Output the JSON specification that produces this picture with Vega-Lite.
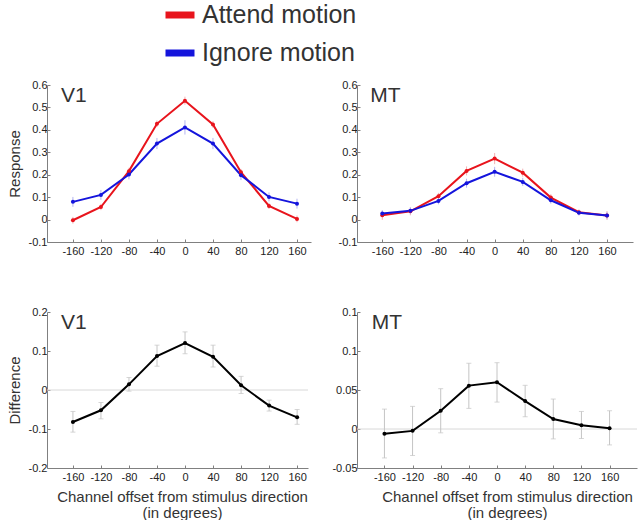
{
  "$schema": "https://vega.github.io/schema/vega-lite/v6.json",
  "background": "white",
  "padding": {"left": 7, "top": -3, "right": 0, "bottom": 0},
  "config": {
    "view": {"stroke": null},
    "font": "Liberation Sans",
    "locale": {"number": {"decimal": ".", "thousands": ",", "grouping": [3], "currency": ["$", ""], "minus": "-"}},
    "axis": {
      "domainColor": "#808080", "tickColor": "#808080", "tickSize": -3,
      "labelFontSize": 11, "labelColor": "#222", "labelPadding": 3, "labelOverlap": false,
      "grid": false, "titleFontSize": 15, "titleFontWeight": "normal", "titleColor": "#333"
    },
    "axisX": {"labelPadding": 6}
  },
  "datasets": {
    "labels": [
      {"panel": "TL", "label": "V1"},
      {"panel": "TR", "label": "MT"},
      {"panel": "BL", "label": "V1"},
      {"panel": "BR", "label": "MT"}
    ],
    "resp": [
      {"area": "V1", "series": "Attend motion", "offset": -160, "value": -0.003, "lo": -0.018, "hi": 0.012},
      {"area": "V1", "series": "Attend motion", "offset": -120, "value": 0.056, "lo": 0.042, "hi": 0.070},
      {"area": "V1", "series": "Attend motion", "offset": -80, "value": 0.216, "lo": 0.201, "hi": 0.231},
      {"area": "V1", "series": "Attend motion", "offset": -40, "value": 0.427, "lo": 0.412, "hi": 0.442},
      {"area": "V1", "series": "Attend motion", "offset": 0, "value": 0.530, "lo": 0.512, "hi": 0.548},
      {"area": "V1", "series": "Attend motion", "offset": 40, "value": 0.424, "lo": 0.409, "hi": 0.439},
      {"area": "V1", "series": "Attend motion", "offset": 80, "value": 0.211, "lo": 0.196, "hi": 0.226},
      {"area": "V1", "series": "Attend motion", "offset": 120, "value": 0.061, "lo": 0.047, "hi": 0.075},
      {"area": "V1", "series": "Attend motion", "offset": 160, "value": 0.003, "lo": -0.012, "hi": 0.018},
      {"area": "V1", "series": "Ignore motion", "offset": -160, "value": 0.079, "lo": 0.057, "hi": 0.101},
      {"area": "V1", "series": "Ignore motion", "offset": -120, "value": 0.110, "lo": 0.088, "hi": 0.132},
      {"area": "V1", "series": "Ignore motion", "offset": -80, "value": 0.201, "lo": 0.179, "hi": 0.223},
      {"area": "V1", "series": "Ignore motion", "offset": -40, "value": 0.339, "lo": 0.314, "hi": 0.364},
      {"area": "V1", "series": "Ignore motion", "offset": 0, "value": 0.411, "lo": 0.379, "hi": 0.443},
      {"area": "V1", "series": "Ignore motion", "offset": 40, "value": 0.339, "lo": 0.314, "hi": 0.364},
      {"area": "V1", "series": "Ignore motion", "offset": 80, "value": 0.198, "lo": 0.176, "hi": 0.220},
      {"area": "V1", "series": "Ignore motion", "offset": 120, "value": 0.101, "lo": 0.081, "hi": 0.121},
      {"area": "V1", "series": "Ignore motion", "offset": 160, "value": 0.071, "lo": 0.049, "hi": 0.093},
      {"area": "MT", "series": "Attend motion", "offset": -160, "value": 0.019, "lo": -0.001, "hi": 0.039},
      {"area": "MT", "series": "Attend motion", "offset": -120, "value": 0.037, "lo": 0.019, "hi": 0.055},
      {"area": "MT", "series": "Attend motion", "offset": -80, "value": 0.104, "lo": 0.089, "hi": 0.119},
      {"area": "MT", "series": "Attend motion", "offset": -40, "value": 0.217, "lo": 0.197, "hi": 0.237},
      {"area": "MT", "series": "Attend motion", "offset": 0, "value": 0.272, "lo": 0.247, "hi": 0.297},
      {"area": "MT", "series": "Attend motion", "offset": 40, "value": 0.209, "lo": 0.191, "hi": 0.227},
      {"area": "MT", "series": "Attend motion", "offset": 80, "value": 0.098, "lo": 0.083, "hi": 0.113},
      {"area": "MT", "series": "Attend motion", "offset": 120, "value": 0.033, "lo": 0.021, "hi": 0.045},
      {"area": "MT", "series": "Attend motion", "offset": 160, "value": 0.018, "lo": -0.002, "hi": 0.038},
      {"area": "MT", "series": "Ignore motion", "offset": -160, "value": 0.027, "lo": 0.012, "hi": 0.042},
      {"area": "MT", "series": "Ignore motion", "offset": -120, "value": 0.039, "lo": 0.024, "hi": 0.054},
      {"area": "MT", "series": "Ignore motion", "offset": -80, "value": 0.083, "lo": 0.068, "hi": 0.098},
      {"area": "MT", "series": "Ignore motion", "offset": -40, "value": 0.162, "lo": 0.142, "hi": 0.182},
      {"area": "MT", "series": "Ignore motion", "offset": 0, "value": 0.213, "lo": 0.191, "hi": 0.235},
      {"area": "MT", "series": "Ignore motion", "offset": 40, "value": 0.168, "lo": 0.150, "hi": 0.186},
      {"area": "MT", "series": "Ignore motion", "offset": 80, "value": 0.086, "lo": 0.071, "hi": 0.101},
      {"area": "MT", "series": "Ignore motion", "offset": 120, "value": 0.030, "lo": 0.018, "hi": 0.042},
      {"area": "MT", "series": "Ignore motion", "offset": 160, "value": 0.018, "lo": 0.003, "hi": 0.033}
    ],
    "diff": [
      {"area": "V1", "offset": -160, "value": -0.082, "lo": -0.108, "hi": -0.055},
      {"area": "V1", "offset": -120, "value": -0.052, "lo": -0.074, "hi": -0.032},
      {"area": "V1", "offset": -80, "value": 0.0145, "lo": -0.003, "hi": 0.032},
      {"area": "V1", "offset": -40, "value": 0.087, "lo": 0.061, "hi": 0.115},
      {"area": "V1", "offset": 0, "value": 0.1205, "lo": 0.093, "hi": 0.149},
      {"area": "V1", "offset": 40, "value": 0.085, "lo": 0.059, "hi": 0.115},
      {"area": "V1", "offset": 80, "value": 0.012, "lo": -0.009, "hi": 0.035},
      {"area": "V1", "offset": 120, "value": -0.040, "lo": -0.054, "hi": -0.026},
      {"area": "V1", "offset": 160, "value": -0.070, "lo": -0.088, "hi": -0.050},
      {"area": "MT", "offset": -160, "value": -0.0062, "lo": -0.0371, "hi": 0.0255},
      {"area": "MT", "offset": -120, "value": -0.0024, "lo": -0.034, "hi": 0.029},
      {"area": "MT", "offset": -80, "value": 0.0234, "lo": -0.0049, "hi": 0.0517},
      {"area": "MT", "offset": -40, "value": 0.0556, "lo": 0.0264, "hi": 0.0843},
      {"area": "MT", "offset": 0, "value": 0.0599, "lo": 0.0345, "hi": 0.085},
      {"area": "MT", "offset": 40, "value": 0.0358, "lo": 0.0157, "hi": 0.056},
      {"area": "MT", "offset": 80, "value": 0.0127, "lo": -0.0127, "hi": 0.0384},
      {"area": "MT", "offset": 120, "value": 0.0049, "lo": -0.0122, "hi": 0.0225},
      {"area": "MT", "offset": 160, "value": 0.0011, "lo": -0.0204, "hi": 0.0234}
    ]
  },
  "bounds": "flush",
  "align": "none",
  "columns": 2,
  "spacing": {"row": 70, "column": 46},
  "resolve": {"scale": {"color": "shared", "x": "independent", "y": "independent"}, "legend": {"color": "shared"}},
  "concat": [
    {
      "width": 264, "height": 157,
      "layer": [
        {
          "data": {"name": "resp"},
          "transform": [{"filter": "datum.area === 'V1' && datum.series === 'Attend motion'"}],
          "mark": {"type": "rule", "strokeWidth": 1, "color": "#f3b0b3"},
          "encoding": {
            "x": {"field": "offset", "type": "quantitative", "axis": {"values": [-160, -120, -80, -40, 0, 40, 80, 120, 160], "format": "d", "title": null, "labelOverlap": false}},
            "y": {"field": "lo", "type": "quantitative", "axis": {"values": [-0.1, 0, 0.1, 0.2, 0.3, 0.4, 0.5, 0.6], "format": "~g", "title": "Response", "titlePadding": 6, "labelOverlap": false}},
            "y2": {"field": "hi"}
          }
        },
        {
          "data": {"name": "resp"},
          "transform": [{"filter": "datum.area === 'V1' && datum.series === 'Ignore motion'"}],
          "mark": {"type": "rule", "strokeWidth": 1, "color": "#b4b4f0"},
          "encoding": {
            "x": {"field": "offset", "type": "quantitative", "axis": {"values": [-160, -120, -80, -40, 0, 40, 80, 120, 160], "format": "d", "title": null, "labelOverlap": false}},
            "y": {"field": "lo", "type": "quantitative", "axis": {"values": [-0.1, 0, 0.1, 0.2, 0.3, 0.4, 0.5, 0.6], "format": "~g", "title": "Response", "titlePadding": 6, "labelOverlap": false}},
            "y2": {"field": "hi"}
          }
        },
        {
          "data": {"name": "resp"},
          "transform": [{"filter": "datum.area === 'V1'"}],
          "mark": {"type": "line", "strokeWidth": 2, "point": {"filled": true, "size": 16}},
          "encoding": {
            "x": {"field": "offset", "type": "quantitative", "scale": {"domain": [-197, 180], "nice": false, "zero": false},
                  "axis": {"values": [-160, -120, -80, -40, 0, 40, 80, 120, 160], "format": "d", "title": null, "labelOverlap": false}},
            "y": {"field": "value", "type": "quantitative", "scale": {"domain": [-0.1, 0.6], "nice": false, "zero": false},
                  "axis": {"values": [-0.1, 0, 0.1, 0.2, 0.3, 0.4, 0.5, 0.6], "format": "~g", "title": "Response", "titlePadding": 6, "labelOverlap": false}},
            "color": {"field": "series", "type": "nominal",
              "scale": {"domain": ["Attend motion", "Ignore motion"], "range": ["#e8141c", "#1414dc"]},
              "legend": {"orient": "none", "legendX": 115, "legendY": -88, "title": null, "direction": "vertical",
                "symbolType": "stroke", "symbolStrokeWidth": 7, "symbolSize": 841, "symbolOpacity": 1,
                "labelFontSize": 25, "labelFont": "Liberation Sans", "labelColor": "#333", "labelOffset": 4, "labelLimit": 400, "rowPadding": 6}}
          }
        },
        {
          "data": {"name": "labels"},
          "transform": [{"filter": "datum.panel === 'TL'"}],
          "mark": {"type": "text", "align": "left", "baseline": "alphabetic", "fontSize": 21, "color": "#333"},
          "encoding": {
            "x": {"datum": -177, "type": "quantitative", "axis": {"values": [-160, -120, -80, -40, 0, 40, 80, 120, 160], "format": "d", "title": null, "labelOverlap": false}},
            "y": {"datum": 0.524, "type": "quantitative", "axis": {"values": [-0.1, 0, 0.1, 0.2, 0.3, 0.4, 0.5, 0.6], "format": "~g", "title": "Response", "titlePadding": 6, "labelOverlap": false}},
            "text": {"field": "label"}
          }
        }
      ]
    },
    {
      "width": 276, "height": 157,
      "layer": [
        {
          "data": {"name": "resp"},
          "transform": [{"filter": "datum.area === 'MT' && datum.series === 'Attend motion'"}],
          "mark": {"type": "rule", "strokeWidth": 1, "color": "#f3b0b3"},
          "encoding": {
            "x": {"field": "offset", "type": "quantitative", "axis": {"values": [-160, -120, -80, -40, 0, 40, 80, 120, 160], "format": "d", "title": null, "labelOverlap": false}},
            "y": {"field": "lo", "type": "quantitative", "axis": {"values": [-0.1, 0, 0.1, 0.2, 0.3, 0.4, 0.5, 0.6], "format": "~g", "title": null, "labelOverlap": false}},
            "y2": {"field": "hi"}
          }
        },
        {
          "data": {"name": "resp"},
          "transform": [{"filter": "datum.area === 'MT' && datum.series === 'Ignore motion'"}],
          "mark": {"type": "rule", "strokeWidth": 1, "color": "#b4b4f0"},
          "encoding": {
            "x": {"field": "offset", "type": "quantitative", "axis": {"values": [-160, -120, -80, -40, 0, 40, 80, 120, 160], "format": "d", "title": null, "labelOverlap": false}},
            "y": {"field": "lo", "type": "quantitative", "axis": {"values": [-0.1, 0, 0.1, 0.2, 0.3, 0.4, 0.5, 0.6], "format": "~g", "title": null, "labelOverlap": false}},
            "y2": {"field": "hi"}
          }
        },
        {
          "data": {"name": "resp"},
          "transform": [{"filter": "datum.area === 'MT'"}],
          "mark": {"type": "line", "strokeWidth": 2, "point": {"filled": true, "size": 16}},
          "encoding": {
            "x": {"field": "offset", "type": "quantitative", "scale": {"domain": [-196, 197], "nice": false, "zero": false},
                  "axis": {"values": [-160, -120, -80, -40, 0, 40, 80, 120, 160], "format": "d", "title": null, "labelOverlap": false}},
            "y": {"field": "value", "type": "quantitative", "scale": {"domain": [-0.1, 0.6], "nice": false, "zero": false},
                  "axis": {"values": [-0.1, 0, 0.1, 0.2, 0.3, 0.4, 0.5, 0.6], "format": "~g", "title": null, "labelOverlap": false}},
            "color": {"field": "series", "type": "nominal"}
          }
        },
        {
          "data": {"name": "labels"},
          "transform": [{"filter": "datum.panel === 'TR'"}],
          "mark": {"type": "text", "align": "left", "baseline": "alphabetic", "fontSize": 21, "color": "#333"},
          "encoding": {
            "x": {"datum": -177, "type": "quantitative", "axis": {"values": [-160, -120, -80, -40, 0, 40, 80, 120, 160], "format": "d", "title": null, "labelOverlap": false}},
            "y": {"datum": 0.524, "type": "quantitative", "axis": {"values": [-0.1, 0, 0.1, 0.2, 0.3, 0.4, 0.5, 0.6], "format": "~g", "title": null, "labelOverlap": false}},
            "text": {"field": "label"}
          }
        }
      ]
    },
    {
      "width": 261, "height": 156,
      "layer": [
        {
          "data": {"name": "labels"},
          "transform": [{"filter": "datum.panel === 'BL'"}],
          "mark": {"type": "rule", "color": "#d8d8d8", "strokeWidth": 1},
          "encoding": {
            "y": {"datum": 0, "type": "quantitative", "axis": {"values": [-0.2, -0.1, 0, 0.1, 0.2], "format": "~g", "title": "Difference", "titlePadding": 6, "labelOverlap": false}}
          }
        },
        {
          "data": {"name": "diff"},
          "transform": [{"filter": "datum.area === 'V1'"}],
          "mark": {"type": "rule", "color": "#c4c4c4", "strokeWidth": 1},
          "encoding": {
            "x": {"field": "offset", "type": "quantitative", "axis": {"values": [-160, -120, -80, -40, 0, 40, 80, 120, 160], "format": "d", "labelOverlap": false, "title": ["Channel offset from stimulus direction", "(in degrees)"], "titlePadding": 7, "titleX": 135, "titleLineHeight": 16}},
            "y": {"field": "lo", "type": "quantitative", "axis": {"values": [-0.2, -0.1, 0, 0.1, 0.2], "format": "~g", "title": "Difference", "titlePadding": 6, "labelOverlap": false}},
            "y2": {"field": "hi"}
          }
        },
        {
          "data": {"name": "diff"},
          "transform": [{"filter": "datum.area === 'V1'"}],
          "mark": {"type": "tick", "orient": "horizontal", "size": 5, "thickness": 1, "color": "#c4c4c4"},
          "encoding": {
            "x": {"field": "offset", "type": "quantitative", "axis": {"values": [-160, -120, -80, -40, 0, 40, 80, 120, 160], "format": "d", "labelOverlap": false, "title": ["Channel offset from stimulus direction", "(in degrees)"], "titlePadding": 7, "titleX": 135, "titleLineHeight": 16}},
            "y": {"field": "lo", "type": "quantitative", "axis": {"values": [-0.2, -0.1, 0, 0.1, 0.2], "format": "~g", "title": "Difference", "titlePadding": 6, "labelOverlap": false}}
          }
        },
        {
          "data": {"name": "diff"},
          "transform": [{"filter": "datum.area === 'V1'"}],
          "mark": {"type": "tick", "orient": "horizontal", "size": 5, "thickness": 1, "color": "#c4c4c4"},
          "encoding": {
            "x": {"field": "offset", "type": "quantitative", "axis": {"values": [-160, -120, -80, -40, 0, 40, 80, 120, 160], "format": "d", "labelOverlap": false, "title": ["Channel offset from stimulus direction", "(in degrees)"], "titlePadding": 7, "titleX": 135, "titleLineHeight": 16}},
            "y": {"field": "hi", "type": "quantitative", "axis": {"values": [-0.2, -0.1, 0, 0.1, 0.2], "format": "~g", "title": "Difference", "titlePadding": 6, "labelOverlap": false}}
          }
        },
        {
          "data": {"name": "diff"},
          "transform": [{"filter": "datum.area === 'V1'"}],
          "mark": {"type": "line", "strokeWidth": 2, "color": "#000", "point": {"filled": true, "size": 16, "color": "#000"}},
          "encoding": {
            "x": {"field": "offset", "type": "quantitative", "scale": {"domain": [-197, 175.5], "nice": false, "zero": false},
                  "axis": {"values": [-160, -120, -80, -40, 0, 40, 80, 120, 160], "format": "d", "labelOverlap": false, "title": ["Channel offset from stimulus direction", "(in degrees)"], "titlePadding": 7, "titleX": 135, "titleLineHeight": 16}},
            "y": {"field": "value", "type": "quantitative", "scale": {"domain": [-0.2, 0.2], "nice": false, "zero": false},
                  "axis": {"values": [-0.2, -0.1, 0, 0.1, 0.2], "format": "~g", "title": "Difference", "titlePadding": 6, "labelOverlap": false}}
          }
        },
        {
          "data": {"name": "labels"},
          "transform": [{"filter": "datum.panel === 'BL'"}],
          "mark": {"type": "text", "align": "left", "baseline": "alphabetic", "fontSize": 21, "color": "#333"},
          "encoding": {
            "x": {"datum": -177, "type": "quantitative", "axis": {"values": [-160, -120, -80, -40, 0, 40, 80, 120, 160], "format": "d", "labelOverlap": false, "title": ["Channel offset from stimulus direction", "(in degrees)"], "titlePadding": 7, "titleX": 135, "titleLineHeight": 16}},
            "y": {"datum": 0.156, "type": "quantitative", "axis": {"values": [-0.2, -0.1, 0, 0.1, 0.2], "format": "~g", "title": "Difference", "titlePadding": 6, "labelOverlap": false}},
            "text": {"field": "label"}
          }
        }
      ]
    },
    {
      "width": 280, "height": 156,
      "layer": [
        {
          "data": {"name": "labels"},
          "transform": [{"filter": "datum.panel === 'BR'"}],
          "mark": {"type": "rule", "color": "#d8d8d8", "strokeWidth": 1},
          "encoding": {
            "y": {"datum": 0, "type": "quantitative", "axis": {"values": [-0.05, 0, 0.05, 0.1, 0.15], "format": "~g", "title": null, "labelOverlap": false}}
          }
        },
        {
          "data": {"name": "diff"},
          "transform": [{"filter": "datum.area === 'MT'"}],
          "mark": {"type": "rule", "color": "#c4c4c4", "strokeWidth": 1},
          "encoding": {
            "x": {"field": "offset", "type": "quantitative", "axis": {"values": [-160, -120, -80, -40, 0, 40, 80, 120, 160], "format": "d", "labelOverlap": false, "title": ["Channel offset from stimulus direction", "(in degrees)"], "titlePadding": 7, "titleX": 150, "titleLineHeight": 16}},
            "y": {"field": "lo", "type": "quantitative", "axis": {"values": [-0.05, 0, 0.05, 0.1, 0.15], "format": "~g", "title": null, "labelOverlap": false}},
            "y2": {"field": "hi"}
          }
        },
        {
          "data": {"name": "diff"},
          "transform": [{"filter": "datum.area === 'MT'"}],
          "mark": {"type": "tick", "orient": "horizontal", "size": 5, "thickness": 1, "color": "#c4c4c4"},
          "encoding": {
            "x": {"field": "offset", "type": "quantitative", "axis": {"values": [-160, -120, -80, -40, 0, 40, 80, 120, 160], "format": "d", "labelOverlap": false, "title": ["Channel offset from stimulus direction", "(in degrees)"], "titlePadding": 7, "titleX": 150, "titleLineHeight": 16}},
            "y": {"field": "lo", "type": "quantitative", "axis": {"values": [-0.05, 0, 0.05, 0.1, 0.15], "format": "~g", "title": null, "labelOverlap": false}}
          }
        },
        {
          "data": {"name": "diff"},
          "transform": [{"filter": "datum.area === 'MT'"}],
          "mark": {"type": "tick", "orient": "horizontal", "size": 5, "thickness": 1, "color": "#c4c4c4"},
          "encoding": {
            "x": {"field": "offset", "type": "quantitative", "axis": {"values": [-160, -120, -80, -40, 0, 40, 80, 120, 160], "format": "d", "labelOverlap": false, "title": ["Channel offset from stimulus direction", "(in degrees)"], "titlePadding": 7, "titleX": 150, "titleLineHeight": 16}},
            "y": {"field": "hi", "type": "quantitative", "axis": {"values": [-0.05, 0, 0.05, 0.1, 0.15], "format": "~g", "title": null, "labelOverlap": false}}
          }
        },
        {
          "data": {"name": "diff"},
          "transform": [{"filter": "datum.area === 'MT'"}],
          "mark": {"type": "line", "strokeWidth": 2, "color": "#000", "point": {"filled": true, "size": 16, "color": "#000"}},
          "encoding": {
            "x": {"field": "offset", "type": "quantitative", "scale": {"domain": [-199, 199], "nice": false, "zero": false},
                  "axis": {"values": [-160, -120, -80, -40, 0, 40, 80, 120, 160], "format": "d", "labelOverlap": false, "title": ["Channel offset from stimulus direction", "(in degrees)"], "titlePadding": 7, "titleX": 150, "titleLineHeight": 16}},
            "y": {"field": "value", "type": "quantitative", "scale": {"domain": [-0.05, 0.15], "nice": false, "zero": false},
                  "axis": {"values": [-0.05, 0, 0.05, 0.1, 0.15], "format": "~g", "title": null, "labelOverlap": false}}
          }
        },
        {
          "data": {"name": "labels"},
          "transform": [{"filter": "datum.panel === 'BR'"}],
          "mark": {"type": "text", "align": "left", "baseline": "alphabetic", "fontSize": 21, "color": "#333"},
          "encoding": {
            "x": {"datum": -178, "type": "quantitative", "axis": {"values": [-160, -120, -80, -40, 0, 40, 80, 120, 160], "format": "d", "labelOverlap": false, "title": ["Channel offset from stimulus direction", "(in degrees)"], "titlePadding": 7, "titleX": 150, "titleLineHeight": 16}},
            "y": {"datum": 0.128, "type": "quantitative", "axis": {"values": [-0.05, 0, 0.05, 0.1, 0.15], "format": "~g", "title": null, "labelOverlap": false}},
            "text": {"field": "label"}
          }
        }
      ]
    }
  ]
}
